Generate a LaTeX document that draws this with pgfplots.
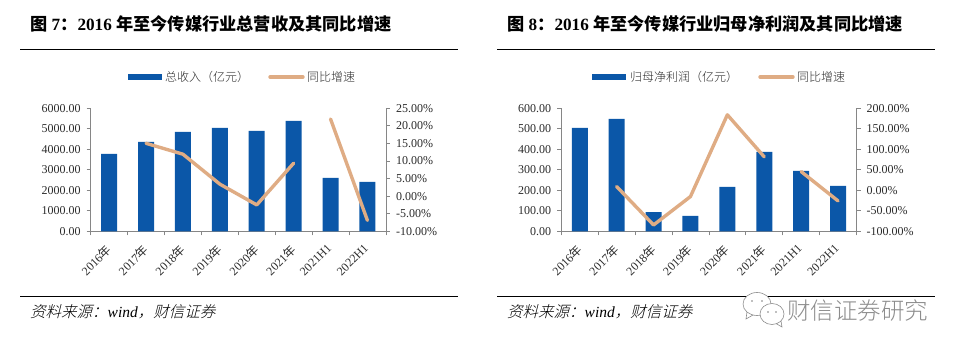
\documentclass[border=0pt]{standalone}
\usepackage{pgfplots}
\pgfplotsset{compat=1.18}
\usepackage{fontspec}
\setmainfont{Liberation Serif}
\newfontfamily\cjk{Noto Sans CJK SC}
\newfontfamily\cjkb{Noto Sans CJK SC Bold}
\newfontfamily\cjkit[FakeSlant=0.25]{Noto Sans CJK SC Light}
\newfontfamily\cjkl{Noto Sans CJK SC Light}
\definecolor{barblue}{HTML}{0B57A8}
\definecolor{linetan}{HTML}{DFAC84}
\definecolor{axgray}{HTML}{868686}
\definecolor{txt}{HTML}{2B2B2B}
\pgfplotsset{
  base/.style={
    scale only axis, width=295.2pt, height=123.2pt, anchor=south west,
    xmin=0, xmax=8, axis line style={draw=axgray, line width=0.7pt},
    tick style={draw=axgray, line width=0.7pt},
    tick label style={font=\fontsize{12}{12}\selectfont, text=txt},
    scaled y ticks=false, clip=false,
  },
  leftax/.style={base, axis y line=left, axis x line=bottom,
    axis line style={-,draw=axgray, line width=0.7pt},
    xtick={0.5,1.5,2.5,3.5,4.5,5.5,6.5,7.5},
    major x tick style={draw=none},
    minor xtick={0,1,2,3,4,5,6,7,8},
    minor tick length=4pt, major tick length=4pt,
    xticklabels={2016{\cjk 年},2017{\cjk 年},2018{\cjk 年},2019{\cjk 年},2020{\cjk 年},2021{\cjk 年},2021H1,2022H1},
    x tick label style={rotate=45, anchor=north east, xshift=-7.5pt, yshift=-1.6pt, inner sep=1pt},
    y tick label style={inner sep=1pt, xshift=-5pt},
    tick align=outside,
  },
  rightax/.style={base, axis y line=right, axis x line=none,
    axis line style={-,draw=axgray, line width=0.7pt},
    major tick length=4pt, tick align=outside,
    y tick label style={inner sep=1pt, anchor=west, xshift=5pt},
  },
  barp/.style={ybar, bar width=16pt, fill=barblue, draw=none, bar shift=0pt},
  linep/.style={linetan, line width=3.4pt, line cap=round, line join=round, no marks},
}
\begin{document}
\begin{tikzpicture}[x=1pt,y=1pt]
\path[use as bounding box] (0,0) rectangle (961,354);
% left headers
\node[anchor=west, inner sep=0pt, text=black] at (30,330) {\fontsize{17.2}{17.2}\selectfont\bfseries{\cjkb 图} 7{\cjkb ：}2016 {\cjkb 年至今传媒行业总营收及其同比增速}};
\draw[black, line width=1pt] (20,304.6) -- (458,304.6);
\draw[black, line width=1pt] (20,57.7) -- (458,57.7);
\node[anchor=west, inner sep=0pt, text=black] at (30,42) {\fontsize{15.5}{15.5}\selectfont{\cjkit 资料来源：}\textit{wind}{\cjkit ，财信证券}};
% right headers
\node[anchor=west, inner sep=0pt, text=black] at (507,330) {\fontsize{17.2}{17.2}\selectfont\bfseries{\cjkb 图} 8{\cjkb ：}2016 {\cjkb 年至今传媒行业归母净利润及其同比增速}};
\draw[black, line width=1pt] (497,304.6) -- (935,304.6);
\draw[black, line width=1pt] (497,57.7) -- (935,57.7);
\node[anchor=west, inner sep=0pt, text=black] at (507,42) {\fontsize{15.5}{15.5}\selectfont{\cjkit 资料来源：}\textit{wind}{\cjkit ，财信证券}};
% legends
\fill[barblue] (128,273.8) rectangle (161.5,280.2);
\node[anchor=west, inner sep=0pt, text=txt] at (165,277) {\fontsize{12}{12}\selectfont\cjkl 总收入（亿元）};
\draw[linetan, line width=3.4pt, line cap=round] (270,277) -- (303,277);
\node[anchor=west, inner sep=0pt, text=txt] at (307,277) {\fontsize{12}{12}\selectfont\cjkl 同比增速};
\fill[barblue] (592,273.8) rectangle (626,280.2);
\node[anchor=west, inner sep=0pt, text=txt] at (630,277) {\fontsize{12}{12}\selectfont\cjkl 归母净利润（亿元）};
\draw[linetan, line width=3.4pt, line cap=round] (760,277) -- (793,277);
\node[anchor=west, inner sep=0pt, text=txt] at (797,277) {\fontsize{12}{12}\selectfont\cjkl 同比增速};
% left chart
\begin{axis}[leftax, at={(90.7pt,122.7pt)}, ymin=0, ymax=6000,
  ytick={0,1000,2000,3000,4000,5000,6000},
  yticklabels={0.00,1000.00,2000.00,3000.00,4000.00,5000.00,6000.00}]
\addplot[barp] coordinates {(0.5,3772)(1.5,4358)(2.5,4845)(3.5,5040)(4.5,4894)(5.5,5382)(6.5,2600)(7.5,2406)};
\end{axis}
\begin{axis}[rightax, at={(90.7pt,122.7pt)}, ymin=-10, ymax=25,
  ytick={-10,-5,0,5,10,15,20,25},
  yticklabels={-10.00\%,-5.00\%,0.00\%,5.00\%,10.00\%,15.00\%,20.00\%,25.00\%}]
\addplot[linep] coordinates {(1.5,15.0)(2.5,11.9)(3.5,3.4)(4.5,-2.5)(5.5,9.35)};
\addplot[linep] coordinates {(6.5,21.9)(7.5,-6.9)};
\end{axis}
% right chart
\begin{axis}[leftax, at={(561.3pt,122.7pt)}, ymin=0, ymax=600,
  ytick={0,100,200,300,400,500,600},
  yticklabels={0.00,100.00,200.00,300.00,400.00,500.00,600.00}]
\addplot[barp] coordinates {(0.5,504)(1.5,548)(2.5,94)(3.5,75)(4.5,216)(5.5,387)(6.5,294)(7.5,221)};
\end{axis}
\begin{axis}[rightax, at={(561.3pt,122.7pt)}, ymin=-100, ymax=200,
  ytick={-100,-50,0,50,100,150,200},
  yticklabels={-100.00\%,-50.00\%,0.00\%,50.00\%,100.00\%,150.00\%,200.00\%}]
\addplot[linep] coordinates {(1.5,9)(2.5,-84.6)(3.5,-15.4)(4.5,183.7)(5.5,81.3)};
\addplot[linep] coordinates {(6.5,45.5)(7.5,-26)};
\end{axis}
% watermark
\begin{scope}[draw=black!45, line width=0.6pt, fill=white]
\draw[fill=white] (757,50) ellipse (14 and 11.5);
\draw (747,42) -- (746,35) -- (753,39);
\draw[fill=white] (772,40) ellipse (12 and 10.5);
\draw (776,30.5) -- (782,27) -- (781,33);
\fill[black!50] (752,53) circle (0.9) (762,53) circle (0.9) (768,42) circle (0.9) (776,42) circle (0.9);
\end{scope}
\node[anchor=west, inner sep=0pt, text=black!45] at (787,43) {\fontsize{23.5}{23.5}\selectfont\cjkl 财信证券研究};
\end{tikzpicture}
\end{document}
